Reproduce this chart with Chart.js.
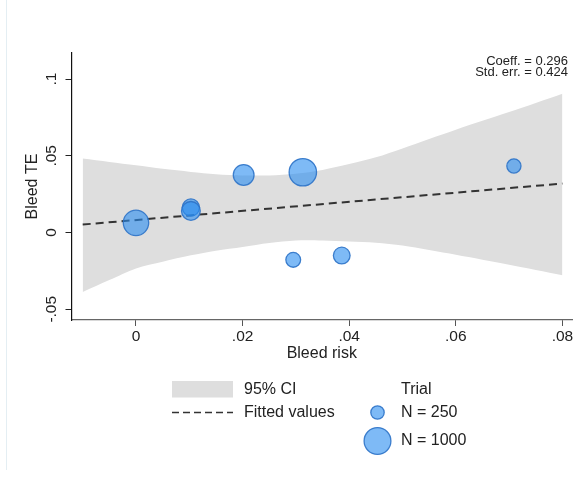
<!DOCTYPE html>
<html><head><meta charset="utf-8">
<script src="https://cdn.jsdelivr.net/npm/chart.js@4/dist/chart.umd.min.js"></script>
<style>html,body{margin:0;padding:0;background:#fff}canvas{display:block}</style>
</head><body>
<canvas id="c" width="575" height="480"></canvas>
<script>
// 95% CI band
const ciX     = [-0.01, -0.005, 0.0, 0.005, 0.0103, 0.015, 0.02, 0.025, 0.03, 0.035, 0.04, 0.045, 0.05, 0.06, 0.07, 0.08];
const ciLower = [-0.0387, -0.031, -0.0234, -0.019, -0.0148, -0.0118, -0.0094, -0.0068, -0.0052, -0.0052, -0.0058, -0.0066, -0.0085, -0.0145, -0.021, -0.0278];
const ciUpper = [0.0482, 0.046, 0.0438, 0.0415, 0.0395, 0.038, 0.0372, 0.0372, 0.0383, 0.0408, 0.0446, 0.049, 0.0548, 0.067, 0.0785, 0.0905];
// Fitted values
const fitX = [-0.01, 0.08];
const fitY = [0.0052, 0.0319];
// Trials
const trialRisk = [0.0, 0.0103, 0.0103, 0.0202, 0.0313, 0.0295, 0.0386, 0.0709];
const trialTE   = [0.0063, 0.0163, 0.0141, 0.0375, 0.0393, -0.0178, -0.0150, 0.0434];
const trialN    = [900, 410, 490, 600, 1045, 305, 390, 280];
// Axis ticks
const xTicks = [0, 0.02, 0.04, 0.06, 0.08];
const xTickLabels = ['0', '.02', '.04', '.06', '.08'];
const yTicks = [-0.05, 0, 0.05, 0.1];
const yTickLabels = ['-.05', '0', '.05', '.1'];
// Legend
const legendN = [250, 1000];
const statsText = ['Coeff. = 0.296', 'Std. err. = 0.424'];

const rad = n => 6.7 * Math.sqrt(n / 250);
const PT_FILL = 'rgba(40,140,240,0.6)';
const PT_EDGE = 'rgba(45,115,200,0.9)';
const BAND = '#dedede';
const FONT = '"Liberation Sans", Arial, Helvetica, sans-serif';

const textPlugin = {
  id: 'texts',
  afterDraw(chart) {
    const ctx = chart.ctx, xs = chart.scales.x, ys = chart.scales.y, ca = chart.chartArea;
    ctx.save();
    // faint left border
    ctx.strokeStyle = '#e4eef3'; ctx.lineWidth = 1;
    ctx.beginPath(); ctx.moveTo(6.5, 0); ctx.lineTo(6.5, 470); ctx.stroke();

    ctx.fillStyle = '#222';
    ctx.textAlign = 'center'; ctx.textBaseline = 'middle';
    ctx.font = '15.5px ' + FONT;
    xTicks.forEach((v, i) => ctx.fillText(xTickLabels[i], xs.getPixelForValue(v), ca.bottom + 17));
    yTicks.forEach((v, i) => {
      ctx.save(); ctx.translate(ca.left - 19.5, ys.getPixelForValue(v)); ctx.rotate(-Math.PI / 2);
      ctx.fillText(yTickLabels[i], 0, 0); ctx.restore();
    });
    ctx.font = '16px ' + FONT;
    ctx.fillText('Bleed risk', (ca.left + ca.right) / 2, ca.bottom + 34);
    ctx.save(); ctx.translate(33, (ca.top + ca.bottom) / 2); ctx.rotate(-Math.PI / 2);
    ctx.fillText('Bleed TE', 0, 0); ctx.restore();

    // stats
    ctx.font = '13px ' + FONT; ctx.textAlign = 'right';
    ctx.fillText(statsText[0], 568, 61);
    ctx.fillText(statsText[1], 568, 72);

    // legend
    ctx.fillStyle = BAND; ctx.fillRect(172, 381, 61, 16.5);
    ctx.strokeStyle = '#333'; ctx.lineWidth = 1.5; ctx.setLineDash([7, 4]);
    ctx.beginPath(); ctx.moveTo(172, 412.5); ctx.lineTo(233, 412.5); ctx.stroke();
    ctx.setLineDash([]);
    ctx.fillStyle = '#222'; ctx.textAlign = 'left'; ctx.font = '16px ' + FONT;
    ctx.fillText('95% CI', 244, 390);
    ctx.fillText('Fitted values', 244, 413);
    ctx.fillText('Trial', 401, 390);
    const ly = [412.5, 441];
    legendN.forEach((n, i) => {
      ctx.beginPath(); ctx.arc(377.5, ly[i], rad(n), 0, Math.PI * 2);
      ctx.fillStyle = PT_FILL; ctx.fill();
      ctx.strokeStyle = PT_EDGE; ctx.lineWidth = 1.3; ctx.stroke();
      ctx.fillStyle = '#222';
      ctx.fillText('N = ' + n, 401, ly[i]);
    });
    ctx.restore();
  }
};

new Chart(document.getElementById('c'), {
  type: 'scatter',
  data: {
    datasets: [
      { type: 'line', label: 'lower', data: ciX.map((x, i) => ({x, y: ciLower[i]})),
        borderWidth: 0, pointRadius: 0, fill: false, order: 3, tension: 0.3 },
      { type: 'line', label: '95% CI', data: ciX.map((x, i) => ({x, y: ciUpper[i]})),
        borderWidth: 0, pointRadius: 0, fill: {target: 0}, backgroundColor: BAND, order: 2, tension: 0.3 },
      { type: 'line', label: 'Fitted values', data: fitX.map((x, i) => ({x, y: fitY[i]})),
        borderColor: '#333', borderWidth: 2, borderDash: [8, 5], pointRadius: 0, fill: false, order: 1 },
      { type: 'scatter', label: 'Trial', data: trialRisk.map((x, i) => ({x, y: trialTE[i]})),
        pointRadius: c => rad(trialN[c.dataIndex]), pointHoverRadius: c => rad(trialN[c.dataIndex]),
        backgroundColor: PT_FILL, borderColor: PT_EDGE, borderWidth: 1.3, order: 0 }
    ]
  },
  options: {
    responsive: false, animation: false, devicePixelRatio: 1,
    layout: { autoPadding: false, padding: { left: 65.5, top: 53, right: 3, bottom: 154 } },
    plugins: { legend: { display: false }, tooltip: { enabled: false } },
    scales: {
      x: { type: 'linear', min: -0.0121, max: 0.0818,
        afterBuildTicks: s => { s.ticks = xTicks.map(v => ({value: v})); },
        ticks: { display: false },
        grid: { display: true, drawOnChartArea: false, drawTicks: true, tickLength: 6, color: '#555', tickColor: '#555' },
        border: { display: true, color: '#666', width: 1.2 } },
      y: { type: 'linear', min: -0.057, max: 0.117,
        afterBuildTicks: s => { s.ticks = yTicks.map(v => ({value: v})); },
        ticks: { display: false },
        grid: { display: true, drawOnChartArea: false, drawTicks: true, tickLength: 6, color: '#222', tickColor: '#222' },
        border: { display: true, color: '#111', width: 1.2 } }
    }
  },
  plugins: [textPlugin]
});
</script>
</body></html>
